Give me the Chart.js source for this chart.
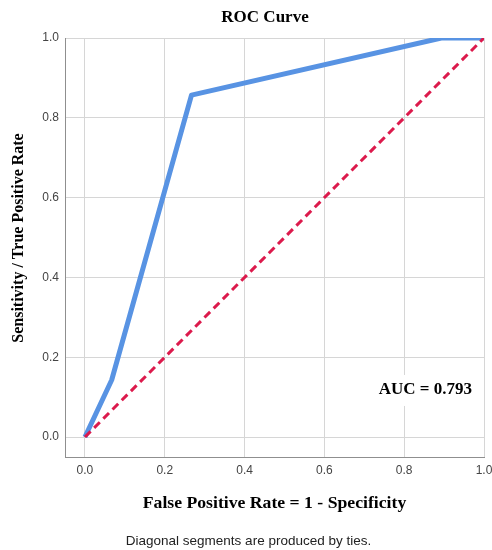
<!DOCTYPE html>
<html>
<head>
<meta charset="utf-8">
<script src="https://cdn.jsdelivr.net/npm/chart.js@4"></script>
<style>
  html, body { margin: 0; padding: 0; background: #fff; }
  #wrap { width: 492px; height: 550px; }
</style>
</head>
<body>
<div id="wrap"><canvas id="roc"></canvas></div>
<script>
// ROC points (1 - specificity, sensitivity)
const fpr = [0, 0.067, 0.267, 0.893, 1];
const tpr = [0, 0.143, 0.857, 1, 1];
// reference diagonal
const refX = [0, 1];
const refY = [0, 1];
const tickValues = [0, 0.2, 0.4, 0.6, 0.8, 1.0];
const aucText = 'AUC = 0.793';
const aucAt = [0.97, 0.118];

const serif = '"Liberation Serif", "Times New Roman", serif';
const sans = '"Liberation Sans", Arial, sans-serif';

const toPoints = (xs, ys) => xs.map((v, i) => ({ x: v, y: ys[i] }));

// title, y-axis title, AUC label and footnote
const rocText = {
    id: 'rocText',
    afterDatasetsDraw(chart) {
        const { ctx, scales: { x, y } } = chart;
        ctx.save();
        ctx.textBaseline = 'middle';
        ctx.font = 'normal bold 17px ' + serif;

        const px = x.getPixelForValue(aucAt[0]);
        const py = y.getPixelForValue(aucAt[1]);
        const w = ctx.measureText(aucText).width;
        ctx.fillStyle = '#fff';
        ctx.fillRect(px - w - 3, py - 15, w + 6, 31);
        ctx.fillStyle = '#000';
        ctx.textAlign = 'right';
        ctx.fillText(aucText, px, py);

        ctx.textAlign = 'center';
        ctx.fillText('ROC Curve', 265, 18);

        ctx.save();
        ctx.translate(19, 238);
        ctx.rotate(-Math.PI / 2);
        ctx.font = 'normal bold 16px ' + serif;
        ctx.fillText('Sensitivity / True Positive Rate', 0, 0);
        ctx.restore();

        ctx.font = 'normal 13.5px ' + sans;
        ctx.fillStyle = '#222';
        ctx.fillText('Diagonal segments are produced by ties.', 248.5, 541);
        ctx.restore();
    }
};

const axisCommon = {
    type: 'linear',
    min: -0.05,
    max: 1,
    afterBuildTicks: (scale) => { scale.ticks = tickValues.map(v => ({ value: v })); },
    grid: { color: '#d6d6d6', lineWidth: 1, drawTicks: false },
    border: { color: '#8f8f8f', width: 1 },
    ticks: {
        font: { family: sans, size: 12 },
        color: '#444',
        padding: 6,
        callback: (v) => Number(v).toFixed(1)
    }
};

new Chart(document.getElementById('roc'), {
    type: 'scatter',
    data: {
        datasets: [
            {
                data: toPoints(fpr, tpr),
                showLine: true,
                borderColor: '#5893e3',
                borderWidth: 5,
                pointRadius: 0,
                borderJoinStyle: 'round',
                order: 1
            },
            {
                data: toPoints(refX, refY),
                showLine: true,
                borderColor: '#dc1a4c',
                borderWidth: 3,
                borderDash: [8, 5],
                pointRadius: 0,
                order: 0
            }
        ]
    },
    options: {
        responsive: true,
        maintainAspectRatio: false,
        animation: false,
        devicePixelRatio: 1,
        layout: { padding: { top: 38, right: 8, left: 0, bottom: 16.4 } },
        plugins: {
            legend: { display: false },
            tooltip: { enabled: false }
        },
        scales: {
            x: {
                ...axisCommon,
                position: 'bottom',
                afterFit: (scale) => {
                    scale.height = 76.6;
                    scale.paddingRight = 0;
                    scale.paddingLeft = 0;
                },
                title: {
                    display: true,
                    text: 'False Positive Rate = 1 - Specificity',
                    color: '#000',
                    font: { family: serif, size: 17.7, weight: 'bold', style: 'normal' },
                    padding: { top: 0, bottom: 20 }
                }
            },
            y: {
                ...axisCommon,
                position: 'left',
                afterFit: (scale) => {
                    scale.width = 65;
                    scale.paddingTop = 0;
                    scale.paddingBottom = 0;
                }
            }
        }
    },
    plugins: [rocText]
});
</script>
</body>
</html>
